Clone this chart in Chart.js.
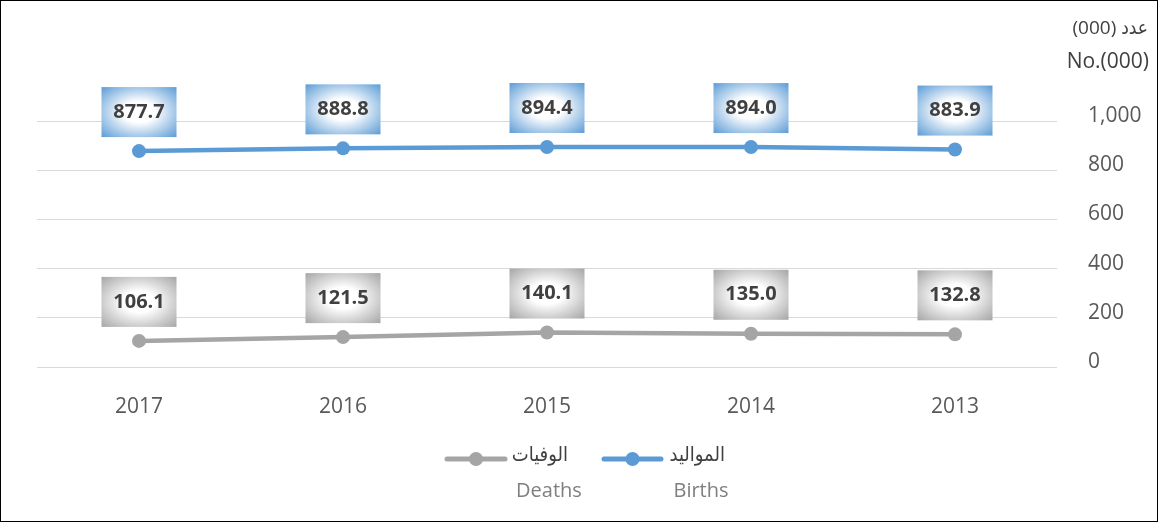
<!DOCTYPE html>
<html>
<head>
<meta charset="utf-8">
<script src="https://cdn.jsdelivr.net/npm/chart.js@4.4.0/dist/chart.umd.min.js"></script>
<style>
  html, body { margin: 0; padding: 0; background: #fff; }
  #wrap { position: relative; width: 1158px; height: 522px; border: 1px solid #000; box-sizing: border-box; }
  #chart { display: block; }
</style>
</head>
<body>
<div id="wrap"><canvas id="chart" width="1156" height="520"></canvas></div>
<script>
const years = ['2017', '2016', '2015', '2014', '2013'];
const births = [877.7, 888.8, 894.4, 894.0, 883.9];
const deaths = [106.1, 121.5, 140.1, 135.0, 132.8];
const seriesAr = ['المواليد', 'الوفيات'];
const seriesEn = ['Births', 'Deaths'];

const blue = '#5b9bd5';
const grey = '#a5a5a5';
const latin = '"Open Sans", "Liberation Sans", sans-serif';
const arabic = '"DejaVu Sans Condensed", "DejaVu Sans", sans-serif';

// boxes with a white centre above each point
const labelBoxes = {
  id: 'labelBoxes',
  afterDatasetsDraw(chart) {
    const ctx = chart.ctx;
    chart.data.datasets.forEach((ds, i) => {
      const meta = chart.getDatasetMeta(i);
      meta.data.forEach((pt, j) => {
        const cx = pt.x, cy = pt.y - 39;
        const w = 75, h = 50;
        ctx.save();
        ctx.translate(cx, cy);
        ctx.scale(1, h / w);
        const g = ctx.createRadialGradient(0, 0, 0, 0, 0, 53);
        g.addColorStop(0, '#ffffff');
        g.addColorStop(0.3, '#ffffff');
        g.addColorStop(1, ds.borderColor);
        ctx.fillStyle = g;
        ctx.fillRect(-w / 2, -w / 2, w, w);
        ctx.restore();
        ctx.save();
        ctx.fillStyle = '#404040';
        ctx.font = 'bold 20px ' + latin;
        ctx.textAlign = 'center';
        ctx.textBaseline = 'middle';
        ctx.fillText(ds.data[j].toFixed(1), cx, cy);
        ctx.restore();
      });
    });
  }
};

// axis unit and two-line legend
const extras = {
  id: 'extras',
  afterDraw(chart) {
    const ctx = chart.ctx;
    ctx.save();
    ctx.direction = 'rtl';
    ctx.textAlign = 'right';
    ctx.textBaseline = 'middle';
    ctx.fillStyle = '#404040';
    ctx.font = '19px "Open Sans", "DejaVu Sans Condensed", sans-serif';
    ctx.fillText('عدد (000)', 1147, 28);
    ctx.direction = 'ltr';
    ctx.font = '21px ' + latin;
    ctx.fillText('No.(000)', 1148, 61);

    const items = [
      { color: blue, x0: 603, x1: 660, textRight: 724, enX: 700, i: 0 },
      { color: grey, x0: 446, x1: 504, textRight: 567, enX: 548, i: 1 }
    ];
    items.forEach(it => {
      ctx.strokeStyle = it.color;
      ctx.lineWidth = 5;
      ctx.lineCap = 'round';
      ctx.beginPath();
      ctx.moveTo(it.x0, 458);
      ctx.lineTo(it.x1, 458);
      ctx.stroke();
      ctx.fillStyle = it.color;
      ctx.beginPath();
      ctx.arc((it.x0 + it.x1) / 2, 458, 7, 0, Math.PI * 2);
      ctx.fill();

      ctx.direction = 'rtl';
      ctx.textAlign = 'right';
      ctx.fillStyle = '#404040';
      ctx.font = '20px ' + arabic;
      ctx.fillText(seriesAr[it.i], it.textRight, 455);
      ctx.direction = 'ltr';
      ctx.textAlign = 'center';
      ctx.fillStyle = '#7f7f7f';
      ctx.font = '20px ' + latin;
      ctx.fillText(seriesEn[it.i], it.enX, 490);
    });
    ctx.restore();
  }
};

const lineSet = (data, color) => ({
  data: data,
  borderColor: color,
  backgroundColor: color,
  borderWidth: 4.5,
  borderCapStyle: 'round',
  pointRadius: 7,
  pointHoverRadius: 7,
  pointBackgroundColor: color,
  pointBorderColor: color,
  pointBorderWidth: 0,
  tension: 0,
  clip: false
});

new Chart(document.getElementById('chart').getContext('2d'), {
  type: 'line',
  data: {
    labels: years,
    datasets: [lineSet(births, blue), lineSet(deaths, grey)]
  },
  options: {
    responsive: false,
    animation: false,
    devicePixelRatio: 1,
    layout: { padding: { top: 120, left: 36, right: 0, bottom: 94 } },
    plugins: { legend: { display: false }, tooltip: { enabled: false } },
    scales: {
      x: {
        offset: true,
        grid: { display: false, drawTicks: false },
        border: { display: false },
        ticks: { color: '#595959', font: { family: latin, size: 21 }, padding: 27, maxRotation: 0 },
        afterFit: s => { s.height = 60; }
      },
      y: {
        position: 'right',
        min: 0,
        max: 1000,
        grid: { color: '#d9d9d9', lineWidth: 1, drawTicks: false },
        border: { display: false },
        ticks: { stepSize: 200, color: '#595959', font: { family: latin, size: 21 }, padding: 31, labelOffset: -5 },
        afterFit: s => { s.width = 100; }
      }
    }
  },
  plugins: [labelBoxes, extras]
});
</script>
</body>
</html>
